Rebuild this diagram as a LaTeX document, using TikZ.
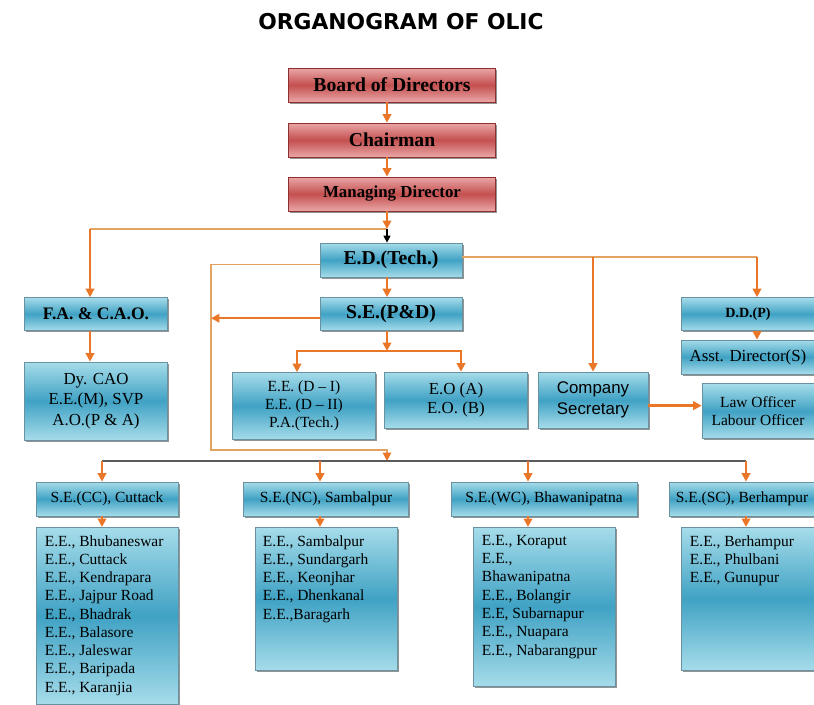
\documentclass[tikz,border=0pt]{standalone}
\usepackage{fontspec}
\setmainfont{Liberation Serif}
\setsansfont{Liberation Sans}
\newfontfamily\titlefont{DejaVu Sans}
\usetikzlibrary{arrows.meta,shadows}
\definecolor{redlight}{RGB}{234,166,166}
\definecolor{redmid}{RGB}{196,80,80}
\definecolor{redline}{RGB}{140,48,48}
\definecolor{bluelight}{RGB}{166,220,234}
\definecolor{bluemid}{RGB}{64,162,196}
\definecolor{blueline}{RGB}{40,100,120}
\definecolor{orangeline}{RGB}{234,118,40}
\definecolor{tanline}{RGB}{226,162,98}
\definecolor{busline}{RGB}{90,90,90}
\newcommand\pxu{0.025cm}
\begin{document}
\begin{tikzpicture}[
    x=\pxu, y=-\pxu,
    every node/.style={inner sep=0pt},
    boxshadow/.style={drop shadow={shadow xshift=1.2pt, shadow yshift=-1.2pt, fill=black!70, opacity=.6}},
    redbox/.style={draw=redline, line width=0.5pt,
                   top color=redlight, bottom color=redlight, middle color=redmid,
                   boxshadow, font=\bfseries\fontsize{14}{16}\selectfont,
                   minimum width=207*\pxu, minimum height=34*\pxu},
    bluebox/.style={draw=blueline!70, line width=0.5pt, align=center,
                    top color=bluelight, bottom color=bluelight, middle color=bluemid,
                    boxshadow},
    headfont/.style={font=\bfseries\fontsize{14}{16}\selectfont},
    sefont/.style={font=\fontsize{11}{13}\selectfont},
    listtext/.style={font=\fontsize{11}{13}\selectfont, align=left, anchor=north west},
    oline/.style={draw=orangeline, line width=1.7pt},
    oarrow/.style={oline, -{Triangle[length=6pt,width=6pt]}},
    tline/.style={draw=tanline, line width=1pt},
  ]
    \useasboundingbox (0,0) rectangle (814,704);
    \node[font=\titlefont\bfseries\fontsize{15.5}{18}\selectfont] (title) at (401,22) {ORGANOGRAM OF OLIC};

    \node[redbox] (board) at (392,85) {Board of Directors};
    \node[redbox] (chair) at (392,140) {Chairman};
    \node[redbox, font=\bfseries\fontsize{12}{14}\selectfont] (md) at (392,194) {Managing Director};

    \node[bluebox, minimum width=142*\pxu, minimum height=34*\pxu, headfont] (edtech) at (391,260) {E.D.(Tech.)};
    \node[bluebox, minimum width=142*\pxu, minimum height=33*\pxu, headfont] (sepd) at (391,314) {S.E.(P\&D)};
    \node[bluebox, minimum width=143*\pxu, minimum height=33*\pxu, font=\bfseries\fontsize{12.5}{14}\selectfont] (fa) at (96,314) {F.A. \& C.A.O.};
    \node[bluebox, minimum width=143*\pxu, minimum height=78*\pxu, font=\fontsize{12}{14.7}\selectfont] (dycao) at (96,401) {Dy. CAO\\E.E.(M), SVP\\A.O.(P \& A)};
    \node[bluebox, minimum width=143*\pxu, minimum height=67*\pxu, font=\fontsize{11}{12.7}\selectfont] (eed) at (304,406) {E.E. (D -- I)\\E.E. (D -- II)\\P.A.(Tech.)};
    \node[bluebox, minimum width=143*\pxu, minimum height=56*\pxu, font=\fontsize{12}{13.5}\selectfont] (eo) at (456,400) {E.O (A)\\E.O. (B)};
    \node[bluebox, minimum width=110*\pxu, minimum height=56*\pxu, font=\sffamily\fontsize{12}{15.2}\selectfont] (cs) at (593,400) {Company\\Secretary};
    \node[bluebox, minimum width=134*\pxu, minimum height=33*\pxu, font=\bfseries\fontsize{10}{12}\selectfont] (ddp) at (748,314) {D.D.(P)};
    \node[bluebox, minimum width=134*\pxu, minimum height=34*\pxu, font=\fontsize{12}{14}\selectfont] (asst) at (748,357) {Asst. Director(S)};
    \node[bluebox, minimum width=112*\pxu, minimum height=55*\pxu, font=\fontsize{11}{13}\selectfont] (law) at (758,411) {Law Officer\\Labour Officer};

    \node[bluebox, minimum width=142*\pxu, minimum height=34*\pxu, sefont] (secc) at (107,499) {S.E.(CC), Cuttack};
    \node[bluebox, minimum width=165*\pxu, minimum height=34*\pxu, sefont] (senc) at (326,499) {S.E.(NC), Sambalpur};
    \node[bluebox, minimum width=186*\pxu, minimum height=34*\pxu, sefont] (sewc) at (544,499) {S.E.(WC), Bhawanipatna};
    \node[bluebox, minimum width=145*\pxu, minimum height=34*\pxu, sefont] (sesc) at (742,499) {S.E.(SC), Berhampur};

    \node[bluebox, minimum width=142*\pxu, minimum height=177*\pxu, anchor=north] (cclist) at (107,527) {};
    \node[bluebox, minimum width=142*\pxu, minimum height=143*\pxu, anchor=north] (nclist) at (326,527) {};
    \node[bluebox, minimum width=142*\pxu, minimum height=159*\pxu, anchor=north] (wclist) at (544,527) {};
    \node[bluebox, minimum width=134*\pxu, minimum height=143*\pxu, anchor=north] (sclist) at (748,527) {};

    \node[listtext] (cctext) at ([shift={(9,8)}]cclist.north west)
      {E.E., Bhubaneswar\\E.E., Cuttack\\E.E., Kendrapara\\E.E., Jajpur Road\\E.E., Bhadrak\\E.E., Balasore\\E.E., Jaleswar\\E.E., Baripada\\E.E., Karanjia};
    \node[listtext] (nctext) at ([shift={(8,8)}]nclist.north west)
      {E.E., Sambalpur\\E.E., Sundargarh\\E.E., Keonjhar\\E.E., Dhenkanal\\E.E.,Baragarh};
    \node[listtext] (wctext) at ([shift={(9,8)}]wclist.north west)
      {E.E., Koraput\\E.E.,\\Bhawanipatna\\E.E., Bolangir\\E.E, Subarnapur\\E.E., Nuapara\\E.E., Nabarangpur};
    \node[listtext] (sctext) at ([shift={(9,8)}]sclist.north west)
      {E.E., Berhampur\\E.E., Phulbani\\E.E., Gunupur};

    \coordinate (spine) at (387,0);
    \coordinate (mdfoot) at (387,229);
    \coordinate (faturn) at (90,229);
    \coordinate (leftrun) at (211,450);
    \coordinate (pdsplit) at (387,351);
    \coordinate (eedturn) at (297,351);
    \coordinate (eoturn) at (461,351);
    \coordinate (csturn) at (593,257);
    \coordinate (ddturn) at (757,257);
    \coordinate (bus) at (387,461);
    \coordinate (ccx) at (102,461);
    \coordinate (ncx) at (320,461);
    \coordinate (wcx) at (528,461);
    \coordinate (scx) at (746,461);

    \draw[oarrow] (board.south -| spine) -- (chair.north -| spine);
    \draw[oarrow] (chair.south -| spine) -- (md.north -| spine);
    \draw[tline] (mdfoot) -- (faturn);
    \draw[oarrow] (md.south -| spine) -- (mdfoot);
    \draw[-{Triangle[length=5pt,width=5pt]}, line width=0.8pt] (mdfoot) -- (edtech.north -| mdfoot);
    \draw[oarrow] (faturn) -- (fa.north -| faturn);
    \draw[oarrow] (fa.south -| faturn) -- (dycao.north -| faturn);

    \draw[tline, -{Triangle[length=6pt,width=6pt,color=orangeline]}] ([yshift=-3pt]edtech.west) -| (leftrun) -| (bus);
    \draw[oarrow] ([yshift=-3pt]sepd.west) -- ([yshift=-3pt]sepd.west -| leftrun);
    \draw[oarrow] (edtech.south -| spine) -- (sepd.north -| spine);
    \draw[oarrow] (sepd.south -| spine) -- (pdsplit);
    \draw[oarrow] (pdsplit) -- (eedturn) -- (eed.north -| eedturn);
    \draw[oarrow] (pdsplit) -- (eoturn) -- (eo.north -| eoturn);

    \draw[tline] (edtech.east |- csturn) -- (ddturn);
    \draw[oarrow] (csturn) -- (cs.north -| csturn);
    \draw[oarrow] (ddturn) -- (ddp.north -| ddturn);
    \draw[oarrow] (ddp.south -| ddturn) -- (asst.north -| ddturn);
    \draw[oarrow] ([yshift=-4pt]cs.east) -- ([yshift=-4pt]cs.east -| law.west);

    \draw[draw=busline, line width=1pt] (ccx) -- (scx);
    \draw[oarrow] (ccx) -- (secc.north -| ccx);
    \draw[oarrow] (ncx) -- (senc.north -| ncx);
    \draw[oarrow] (wcx) -- (sewc.north -| wcx);
    \draw[oarrow] (scx) -- (sesc.north -| scx);
    \draw[oarrow] (secc.south -| ccx) -- (cclist.north -| ccx);
    \draw[oarrow] (senc.south -| ncx) -- (nclist.north -| ncx);
    \draw[oarrow] (sewc.south -| wcx) -- (wclist.north -| wcx);
    \draw[oarrow] (sesc.south -| scx) -- (sclist.north -| scx);
  \end{tikzpicture}
\end{document}
